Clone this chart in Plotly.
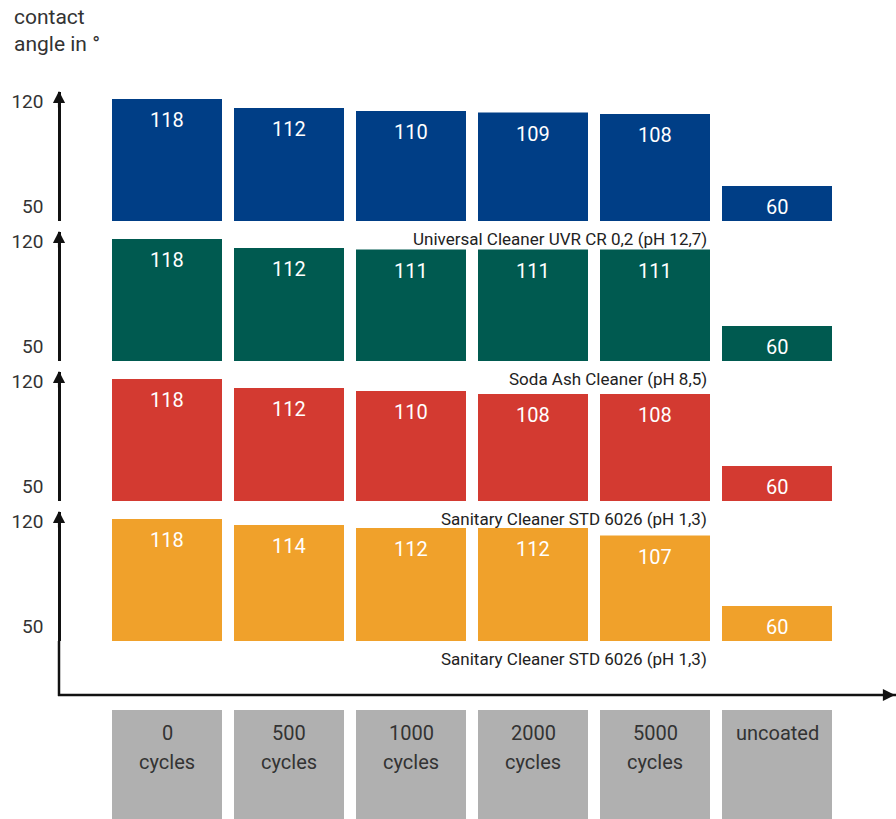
import plotly.graph_objects as go

# ---------------- data ----------------
categories = ["0 cycles", "500 cycles", "1000 cycles", "2000 cycles", "5000 cycles", "uncoated"]
label_line1 = ["0", "500", "1000", "2000", "5000", "uncoated"]
label_line2 = ["cycles", "cycles", "cycles", "cycles", "cycles", ""]

universal_cleaner = [118, 112, 110, 109, 108, 60]
soda_ash_cleaner = [118, 112, 111, 111, 111, 60]
sanitary_cleaner_a = [118, 112, 110, 108, 108, 60]
sanitary_cleaner_b = [118, 114, 112, 112, 107, 60]

series_names = [
    "Universal Cleaner UVR CR 0,2 (pH 12,7)",
    "Soda Ash Cleaner (pH 8,5)",
    "Sanitary Cleaner STD 6026 (pH 1,3)",
    "Sanitary Cleaner STD 6026 (pH 1,3)",
]
series_values = [universal_cleaner, soda_ash_cleaner, sanitary_cleaner_a, sanitary_cleaner_b]
series_colors = ["#003e86", "#005a50", "#d33a31", "#f0a12b"]
y_tick_values = [50, 120]
y_title = "contact<br>angle in °"

# ---------------- layout helpers ----------------
W, H = 896, 819
FONT = "Roboto, sans-serif"
TXT = "#333333"


def py(y):
    return 1 - y / H


def pxx(x):
    return x / W


baselines = [221, 361, 501, 641]
panel_h = 129
scale = 1.5  # px per unit
y_min = 36.7
y_max = y_min + panel_h / scale

fig = go.Figure()
annotations = []
shapes = []
layout_axes = {}

for i, (name, vals, col, base) in enumerate(zip(series_names, series_values, series_colors, baselines)):
    n = i + 1
    yname = "y" if n == 1 else f"y{n}"
    ykey = "yaxis" if n == 1 else f"yaxis{n}"
    fig.add_trace(go.Bar(
        x=categories, y=vals, xaxis="x", yaxis=yname,
        marker=dict(color=col, line=dict(width=0)),
        showlegend=False, hoverinfo="x+y",
    ))
    layout_axes[ykey] = dict(
        domain=[py(base), py(base - panel_h)],
        range=[y_min, y_max],
        anchor="free", position=pxx(59), automargin=False,
        showgrid=False, zeroline=False,
        showline=True, linecolor="#111111", linewidth=2.5,
        tickvals=y_tick_values, ticks="", ticklabelstandoff=11,
        ticklabelshift=5,
        tickfont=dict(family=FONT, size=19, color=TXT),
    )
    # arrow head at top of axis
    annotations.append(dict(
        xref="paper", yref="paper", x=pxx(59), y=py(base - panel_h - 1),
        ax=0, ay=18, showarrow=True, arrowhead=2, arrowsize=1.1,
        arrowwidth=2.2, arrowcolor="#111111", text="",
    ))
    # value labels
    for c, v in zip(categories, vals):
        annotations.append(dict(
            xref="x", yref=yname, x=c, y=v, yshift=-21,
            text=str(v), showarrow=False, yanchor="middle",
            font=dict(family=FONT, size=20, color="white"),
        ))
    # series caption
    annotations.append(dict(
        xref="paper", yref="paper", x=pxx(709), y=py(base + 18),
        xanchor="right", yanchor="middle", showarrow=False, text=name,
        font=dict(family=FONT, size=17, color="#222222"),
    ))

# category boxes at the bottom
fig.add_trace(go.Bar(
    x=categories, y=[1] * len(categories), xaxis="x", yaxis="y5",
    marker=dict(color="#b0b0b0", line=dict(width=0)),
    showlegend=False, hoverinfo="x",
))
layout_axes["yaxis5"] = dict(domain=[0, py(710)], range=[0, 1], visible=False,
                             anchor="free", position=0, automargin=False)
for c, l1, l2 in zip(categories, label_line1, label_line2):
    annotations.append(dict(xref="x", yref="paper", x=c, y=py(733), text=l1, showarrow=False,
                            yanchor="middle", font=dict(family=FONT, size=20, color=TXT)))
    if l2:
        annotations.append(dict(xref="x", yref="paper", x=c, y=py(762), text=l2, showarrow=False,
                                yanchor="middle", font=dict(family=FONT, size=20, color=TXT)))

# axis title
annotations.append(dict(xref="paper", yref="paper", x=pxx(12), y=py(3), xanchor="left", yanchor="top",
                        text=y_title, showarrow=False, align="left",
                        font=dict(family=FONT, size=21, color=TXT)))

# lower part of the vertical axis and horizontal axis (with arrow at the right edge)
shapes.append(dict(type="line", xref="paper", yref="paper", x0=pxx(59), x1=pxx(59),
                   y0=py(baselines[-1]), y1=py(696), line=dict(color="#111111", width=2.5)))
shapes.append(dict(type="line", xref="paper", yref="paper", x0=pxx(58), x1=1.0,
                   y0=py(695), y1=py(695), line=dict(color="#111111", width=2.5)))
annotations.append(dict(xref="paper", yref="paper", x=pxx(905), y=py(695), ax=-20, ay=0,
                        showarrow=True, arrowhead=2, arrowsize=1.1, arrowwidth=2.2,
                        arrowcolor="#111111", text=""))

fig.update_layout(
    width=W, height=H,
    margin=dict(l=0, r=0, t=0, b=0, autoexpand=False),
    paper_bgcolor="white", plot_bgcolor="white",
    bargap=12 / 122,
    xaxis=dict(domain=[pxx(106), pxx(838)], range=[-0.5, 5.5], type="category",
               visible=False, anchor="y4", automargin=False),
    annotations=annotations, shapes=shapes,
    font=dict(family=FONT),
    **layout_axes,
)

fig.write_html("out.html")
